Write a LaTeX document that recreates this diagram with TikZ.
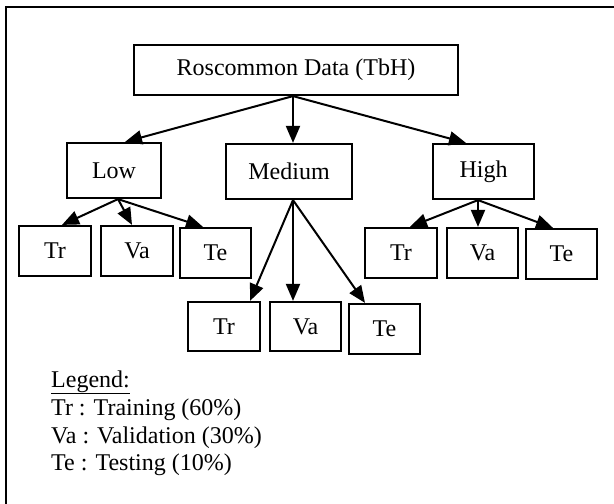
\documentclass[tikz,border=0pt]{standalone}
\usepackage{fontspec}
\setmainfont{Liberation Serif}
\usetikzlibrary{arrows.meta}
\begin{document}
\begin{tikzpicture}[x=1pt,y=-1pt,
  box/.style={draw=black,line width=2.2pt,rectangle,inner sep=0pt,
    font=\fontsize{24}{28}\selectfont},
  arr/.style={line width=2pt,-{Triangle[length=17pt,width=14pt]}},
  legtext/.style={anchor=base west,inner sep=0pt,font=\fontsize{24}{28}\selectfont}]
\useasboundingbox (0,0) rectangle (614,504);
\draw[line width=2.5pt] (6,504) -- (6,7) -- (614,7);
% level 0
\node[box,minimum width=324pt,minimum height=50pt] (root) at (296,70) {Roscommon Data (TbH)};
% level 1
\node[box,minimum width=94pt,minimum height=55pt] (low) at (114,170.5) {Low};
\node[box,minimum width=126pt,minimum height=55pt] (med) at (289,171.5) {Medium};
\node[box,minimum width=101pt,minimum height=55pt] (high) at (483.5,171.5) {High};
% level 2 under Low
\node[box,minimum width=72pt,minimum height=50pt] (ltr) at (55,251) {Tr};
\node[box,minimum width=72pt,minimum height=50pt] (lva) at (137,251) {Va};
\node[box,minimum width=71pt,minimum height=50pt] (lte) at (215.5,253) {Te};
% level 2 under High
\node[box,minimum width=72pt,minimum height=50pt] (htr) at (401,253) {Tr};
\node[box,minimum width=71pt,minimum height=50pt] (hva) at (482.5,253) {Va};
\node[box,minimum width=71pt,minimum height=50pt] (hte) at (561.5,254) {Te};
% level 2 under Medium
\node[box,minimum width=72pt,minimum height=49pt] (mtr) at (224,326.5) {Tr};
\node[box,minimum width=71pt,minimum height=49pt] (mva) at (305.5,326.5) {Va};
\node[box,minimum width=71pt,minimum height=50pt] (mte) at (384.5,329) {Te};
% origins
\coordinate (o0) at ([xshift=-3pt]root.south);
\coordinate (o1) at ([xshift=4pt]low.south);
\coordinate (o2) at ([xshift=4pt]med.south);
\coordinate (o3) at ([xshift=-5.5pt]high.south);
% arrows
\draw[arr] (o0) -- ([xshift=11pt]low.north);
\draw[arr] (o0) -- ([xshift=4pt]med.north);
\draw[arr] (o0) -- ([xshift=-17.5pt]high.north);
\draw[arr] (o1) -- ([xshift=7pt]ltr.north);
\draw[arr] (o1) -- ([xshift=-5pt]lva.north);
\draw[arr] (o1) -- ([xshift=-12.5pt]lte.north);
\draw[arr] (o3) -- ([xshift=9pt]htr.north);
\draw[arr] (o3) -- ([xshift=-4.5pt]hva.north);
\draw[arr] (o3) -- ([xshift=-8.5pt]hte.north);
\draw[arr] (o2) -- ([xshift=26pt]mtr.north);
\draw[arr] (o2) -- ([xshift=-12.5pt]mva.north);
\draw[arr] (o2) -- ([xshift=-19.5pt]mte.north);
% legend
\node[legtext] (leg0) at (51,387) {\underline{Legend:}};
\node[legtext] (leg1) at (51,415) {Tr : Training (60\%)};
\node[legtext] (leg2) at (51,443) {Va : Validation (30\%)};
\node[legtext] (leg3) at (51,470) {Te : Testing (10\%)};
\end{tikzpicture}
\end{document}
